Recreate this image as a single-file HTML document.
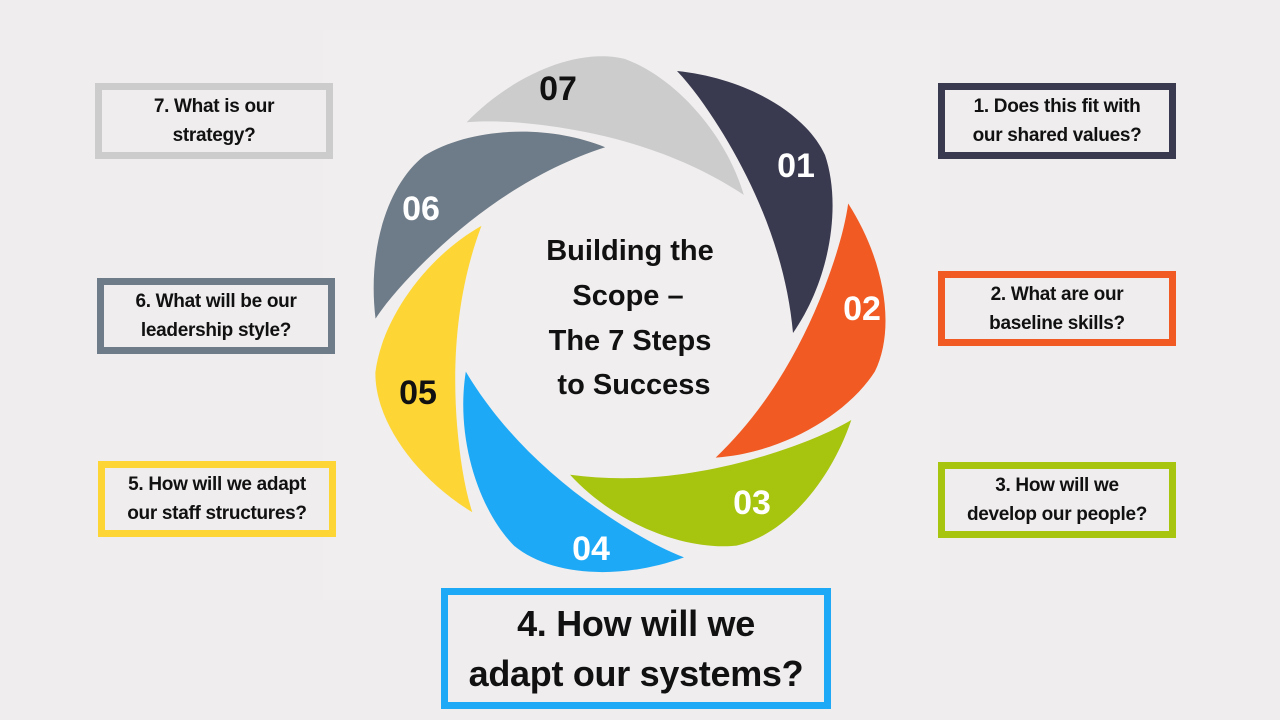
<!DOCTYPE html>
<html><head><meta charset="utf-8"><style>
body{margin:0;width:1280px;height:720px;background:#efeded;position:relative;overflow:hidden;font-family:"Liberation Sans",sans-serif;}
.box{position:absolute;box-sizing:border-box;border:7px solid;background:#efeded;display:flex;align-items:center;justify-content:center;text-align:center;font-weight:bold;font-size:19px;line-height:29px;color:#111;letter-spacing:-0.3px}
svg{position:absolute;left:0;top:0}
</style></head><body>
<svg width="1280" height="720">
<rect x="323" y="30" width="617" height="570" fill="#f0eeee"/>
<defs>
<path id="p" d="M677,71 C745,78 805,112 825,155 C842,205 830,280 793,333 C787,265 762,200 728,142 C712,115 695,90 677,71Z"/>
</defs>
<use href="#p" fill="#393950"/>
<use href="#p" fill="#f15a22" transform="rotate(51.43 625 315)"/>
<use href="#p" fill="#a7c40e" transform="rotate(102.86 625 315)"/>
<use href="#p" fill="#1ea9f7" transform="rotate(154.29 625 315)"/>
<use href="#p" fill="#fdd535" transform="rotate(205.71 625 315)"/>
<use href="#p" fill="#6e7b88" transform="rotate(257.14 625 315)"/>
<use href="#p" fill="#cccccc" transform="rotate(308.57 625 315)"/>
<g font-family="Liberation Sans, sans-serif" font-weight="bold" font-size="34" text-anchor="middle">
<text x="796" y="177" fill="#fff">01</text>
<text x="862" y="320" fill="#fff">02</text>
<text x="752" y="514" fill="#fff">03</text>
<text x="591" y="560" fill="#fff">04</text>
<text x="418" y="404" fill="#111">05</text>
<text x="421" y="220" fill="#fff">06</text>
<text x="558" y="100" fill="#111">07</text>
</g>
<g font-family="Liberation Sans, sans-serif" font-weight="bold" font-size="29" text-anchor="middle" fill="#111">
<text x="630" y="260">Building the</text>
<text x="628" y="305">Scope –</text>
<text x="630" y="350">The 7 Steps</text>
<text x="634" y="394">to Success</text>
</g>
</svg>
<div class="box" style="left:938px;top:83px;width:238px;height:76px;border-color:#393950">1. Does this fit with<br>our shared values?</div>
<div class="box" style="left:938px;top:271px;width:238px;height:75px;border-color:#f15a22">2. What are our<br>baseline skills?</div>
<div class="box" style="left:938px;top:462px;width:238px;height:76px;border-color:#a7c40e">3. How will we<br>develop our people?</div>
<div class="box" style="left:441px;top:588px;width:390px;height:121px;border-color:#1ea9f7;font-size:36px;line-height:50px">4. How will we<br>adapt our systems?</div>
<div class="box" style="left:98px;top:461px;width:238px;height:76px;border-color:#fdd535">5. How will we adapt<br>our staff structures?</div>
<div class="box" style="left:97px;top:278px;width:238px;height:76px;border-color:#6e7b88">6. What will be our<br>leadership style?</div>
<div class="box" style="left:95px;top:83px;width:238px;height:76px;border-color:#cccccc">7. What is our<br>strategy?</div>
</body></html>
